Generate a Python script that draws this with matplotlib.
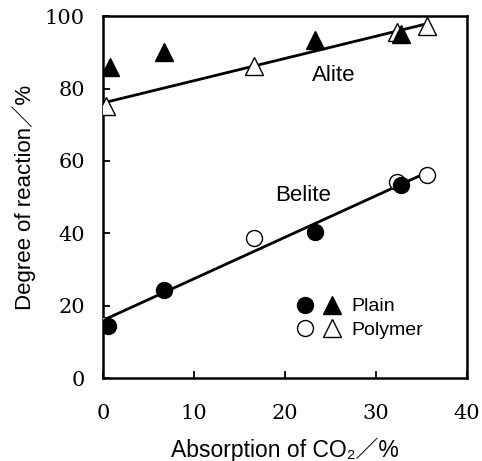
import matplotlib
matplotlib.use('Agg')
import matplotlib.pyplot as plt
from matplotlib.legend_handler import HandlerTuple
from matplotlib.lines import Line2D

# ======================
# DATA
# ======================
alite_plain_x = [0.8, 6.7, 23.3, 32.7]
alite_plain_y = [86.0, 90.1, 93.5, 95.2]
alite_poly_x = [0.3, 16.6, 32.3, 35.6]
alite_poly_y = [75.3, 86.3, 95.6, 97.2]
alite_fit_x = [0.3, 35.6]
alite_fit_y = [76.2, 97.9]

belite_plain_x = [0.6, 6.7, 23.3, 32.7]
belite_plain_y = [14.5, 24.4, 40.4, 53.3]
belite_poly_x = [0.0, 16.6, 32.3, 35.6]
belite_poly_y = [14.6, 38.8, 54.2, 56.0]
belite_fit_x = [0.3, 35.6]
belite_fit_y = [16.3, 56.8]

x_ticks = [0, 10, 20, 30, 40]
y_ticks = [0, 20, 40, 60, 80, 100]

sans = ['Liberation Sans', 'Noto Sans CJK JP', 'DejaVu Sans']
serif = ['DejaVu Serif']

# ======================
# PLOT
# ======================
fig = plt.figure(figsize=(4.82, 4.61), dpi=100)
ax = fig.add_axes([0.2137, 0.180, 0.7553, 0.785])

ms_c = 11.5
ms_t = 13.5
ax.plot(alite_fit_x, alite_fit_y, color='black', lw=2, zorder=2)
ax.plot(belite_fit_x, belite_fit_y, color='black', lw=2, zorder=2)

ax.plot(alite_poly_x, alite_poly_y, ls='none', marker='^', ms=ms_t,
        mfc='white', mec='black', mew=1.0, zorder=3)
ax.plot(alite_plain_x, alite_plain_y, ls='none', marker='^', ms=ms_t,
        mfc='black', mec='black', zorder=4)
ax.plot(belite_poly_x, belite_poly_y, ls='none', marker='o', ms=ms_c,
        mfc='white', mec='black', mew=1.0, zorder=3)
ax.plot(belite_plain_x, belite_plain_y, ls='none', marker='o', ms=ms_c,
        mfc='black', mec='black', zorder=4)

ax.text(25.3, 83.7, 'Alite', fontsize=16, family=sans, ha='center', va='center')
ax.text(22.0, 50.5, 'Belite', fontsize=16, family=sans, ha='center', va='center')

# legend: filled / open pairs
h_plain = (Line2D([], [], ls='none', marker='o', ms=ms_c, mfc='black', mec='black'),
           Line2D([], [], ls='none', marker='^', ms=ms_t, mfc='black', mec='black'))
h_poly = (Line2D([], [], ls='none', marker='o', ms=ms_c, mfc='white', mec='black', mew=1.0),
          Line2D([], [], ls='none', marker='^', ms=ms_t, mfc='white', mec='black', mew=1.0))
leg = ax.legend([h_plain, h_poly], ['Plain', 'Polymer'],
                handler_map={tuple: HandlerTuple(ndivide=None, pad=0.3)},
                loc='upper left', bbox_to_anchor=(0.48, 0.27), frameon=False,
                handlelength=2.4, handletextpad=0.5, labelspacing=0.3,
                prop={'family': sans, 'size': 14})

ax.set_xlim(0, 40)
ax.set_ylim(0, 100)
ax.set_xticks(x_ticks)
ax.set_yticks(y_ticks)
ax.tick_params(direction='in', length=5, width=1.3, top=False, right=False)
ax.tick_params(axis='x', pad=19)
ax.tick_params(axis='y', pad=13)
for lab in ax.get_xticklabels() + ax.get_yticklabels():
    lab.set_family(serif)
    lab.set_fontsize(15)
for sp in ax.spines.values():
    sp.set_linewidth(1.8)

ax.set_xlabel('Absorption of CO\u2082\uff0f%', family=sans, fontsize=16.5, labelpad=10)
ax.set_ylabel('Degree of reaction\uff0f%', family=sans, fontsize=16, labelpad=6)

fig.savefig('out.png', dpi=100)
